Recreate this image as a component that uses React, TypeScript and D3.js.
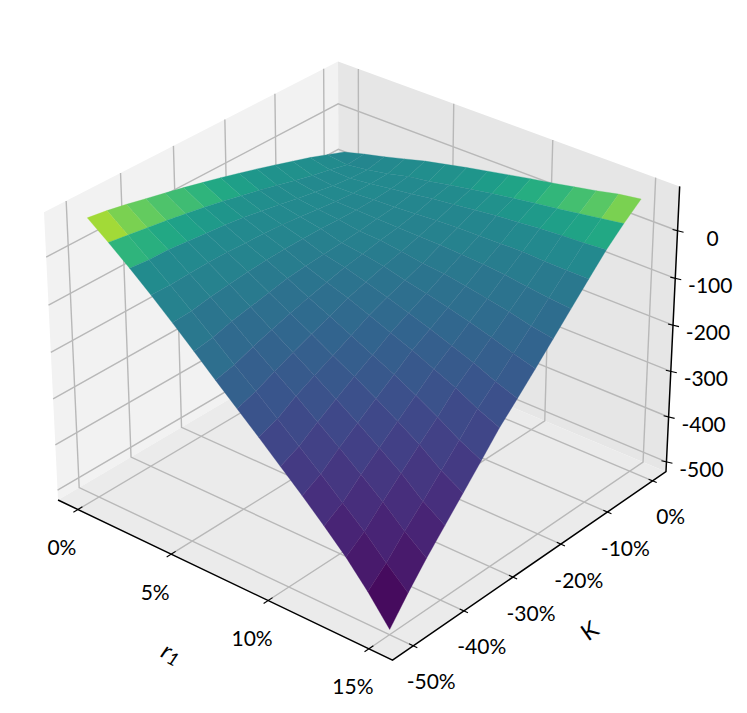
import React from "react";
import * as d3 from "d3";

const WIDTH = 747;
const HEIGHT = 713;

const r1Grid = [0, 1.0714, 2.1429, 3.2143, 4.2857, 5.3571, 6.4286, 7.5, 8.5714, 9.6429, 10.7143, 11.7857, 12.8571, 13.9286, 15];
const kGrid = [-50, -46.43, -42.86, -39.29, -35.71, -32.14, -28.57, -25, -21.43, -17.86, -14.29, -10.71, -7.14, -3.57, 0];

// surface height, one row per r1 value, one column per K value
const zRows = [
  [75, 69, 61, 52, 43, 34, 24, 14, 3, -8, -20, -32, -44, -58, -72],
  [42, 36, 30, 24, 17, 10, 2, -7, -16, -26, -36, -46, -54, -63, -60],
  [7, 3, 2, -2, -6, -10, -15, -22, -29, -37, -44, -51, -55, -57, -49],
  [-30, -31, -29, -28, -28, -30, -31, -34, -38, -43, -47, -50, -50, -49, -37],
  [-69, -67, -60, -55, -51, -48, -46, -46, -46, -47, -48, -47, -44, -38, -25],
  [-109, -103, -92, -84, -76, -68, -64, -61, -58, -54, -49, -45, -38, -31, -15],
  [-150, -141, -126, -113, -101, -90, -80, -70, -64, -56, -50, -42, -31, -22, -5],
  [-190, -177, -159, -142, -126, -111, -95, -83, -72, -62, -51, -39, -26, -14, 4],
  [-230, -215, -191, -171, -152, -133, -113, -97, -83, -69, -52, -37, -20, -6, 13],
  [-271, -253, -226, -201, -177, -155, -131, -112, -93, -73, -54, -36, -15, 1, 22],
  [-312, -291, -260, -232, -204, -177, -149, -127, -104, -81, -57, -35, -11, 8, 30],
  [-355, -331, -296, -264, -232, -201, -169, -143, -116, -89, -61, -34, -7, 14, 39],
  [-400, -371, -333, -297, -261, -227, -189, -160, -129, -98, -67, -36, -4, 21, 48],
  [-452, -417, -375, -336, -296, -256, -214, -180, -144, -109, -73, -37, -2, 28, 58],
  [-511, -459, -411, -367, -323, -279, -234, -196, -157, -117, -77, -37, 2, 35, 65],
];

// position on the viridis ramp for each face
const faceColors = [
  [0.86, 0.8, 0.76, 0.72, 0.69, 0.65, 0.6, 0.56, 0.53, 0.51, 0.5, 0.49, 0.48, 0.46],
  [0.65, 0.63, 0.6, 0.57, 0.54, 0.52, 0.5, 0.49, 0.48, 0.48, 0.47, 0.47, 0.47, 0.46],
  [0.48, 0.47, 0.47, 0.47, 0.47, 0.47, 0.47, 0.47, 0.47, 0.47, 0.47, 0.47, 0.47, 0.47],
  [0.44, 0.43, 0.44, 0.44, 0.45, 0.45, 0.455, 0.46, 0.46, 0.46, 0.46, 0.47, 0.47, 0.48],
  [0.4, 0.39, 0.4, 0.41, 0.41, 0.42, 0.42, 0.43, 0.44, 0.45, 0.455, 0.46, 0.47, 0.49],
  [0.36, 0.34, 0.35, 0.36, 0.37, 0.385, 0.4, 0.415, 0.43, 0.44, 0.45, 0.46, 0.47, 0.5],
  [0.305, 0.3, 0.315, 0.33, 0.345, 0.36, 0.38, 0.4, 0.415, 0.43, 0.445, 0.46, 0.48, 0.52],
  [0.255, 0.265, 0.28, 0.3, 0.32, 0.34, 0.36, 0.38, 0.4, 0.42, 0.44, 0.46, 0.49, 0.55],
  [0.21, 0.225, 0.25, 0.27, 0.295, 0.32, 0.34, 0.36, 0.385, 0.41, 0.44, 0.46, 0.5, 0.58],
  [0.17, 0.195, 0.215, 0.245, 0.27, 0.295, 0.32, 0.345, 0.37, 0.4, 0.43, 0.46, 0.52, 0.62],
  [0.135, 0.16, 0.19, 0.215, 0.245, 0.27, 0.3, 0.33, 0.36, 0.39, 0.42, 0.47, 0.54, 0.66],
  [0.1, 0.13, 0.16, 0.19, 0.215, 0.25, 0.28, 0.315, 0.35, 0.38, 0.415, 0.47, 0.56, 0.7],
  [0.07, 0.1, 0.13, 0.16, 0.195, 0.225, 0.265, 0.3, 0.335, 0.37, 0.41, 0.47, 0.58, 0.74],
  [0.03, 0.07, 0.1, 0.135, 0.17, 0.21, 0.245, 0.285, 0.32, 0.355, 0.4, 0.47, 0.6, 0.8],
];

const r1Ticks = [0, 5, 10, 15];
const kTicks = [0, -10, -20, -30, -40, -50];
const zTicks = [0, -100, -200, -300, -400, -500];

const xLim: [number, number] = [-1.09, 16.14];
const yLim: [number, number] = [-54, 3];
const zLim: [number, number] = [-522, 92];

// view of the axes box
const elev = (30 * Math.PI) / 180;
const azim = (-50 * Math.PI) / 180;
const dist = 10;
const halfXY = 0.595;
const halfZ = 0.446;
const pxScale = 3707;
const centerX = 363.9;
const centerY = 345.7;

const xBox = d3.scaleLinear().domain(xLim).range([-halfXY, halfXY]);
const yBox = d3.scaleLinear().domain(yLim).range([-halfXY, halfXY]);
const zBox = d3.scaleLinear().domain(zLim).range([-halfZ, halfZ]);

const uAxis = [-Math.sin(azim), Math.cos(azim), 0];
const wAxis = [Math.cos(elev) * Math.cos(azim), Math.cos(elev) * Math.sin(azim), Math.sin(elev)];
const vAxis = [Math.sin(elev) * -Math.cos(azim), Math.sin(elev) * -Math.sin(azim), Math.cos(elev)];

const dot = (a: number[], b: number[]) => a[0] * b[0] + a[1] * b[1] + a[2] * b[2];

// data coordinates to screen, returns [px, py, depth]
function project(x: number, y: number, z: number) {
  const p = [xBox(x), yBox(y), zBox(z)];
  const depth = dist - dot(p, wAxis);
  return [
    centerX + (pxScale * dot(p, uAxis)) / depth,
    centerY - (pxScale * dot(p, vAxis)) / depth,
    depth,
  ];
}

const line3d = d3
  .line<number[]>()
  .x((d) => d[0])
  .y((d) => d[1]);

const path3d = (pts: number[][], close = false) =>
  line3d(pts.map((d) => project(d[0], d[1], d[2]))) + (close ? "Z" : "");

const colorScale = d3.scaleSequential(d3.interpolateViridis).domain([0, 1]);

const [x0, x1] = xLim;
const [y0, y1] = yLim;
const [z0, z1] = zLim;

const panes = [
  { fill: "#f2f2f2", pts: [[x0, y0, z0], [x0, y1, z0], [x0, y1, z1], [x0, y0, z1]] },
  { fill: "#e6e6e6", pts: [[x0, y1, z0], [x1, y1, z0], [x1, y1, z1], [x0, y1, z1]] },
  { fill: "#ebebeb", pts: [[x0, y0, z0], [x1, y0, z0], [x1, y1, z0], [x0, y1, z0]] },
];

const gridLines = [
  ...r1Ticks.map((t) => [[t, y0, z0], [t, y1, z0], [t, y1, z1]]),
  ...kTicks.map((t) => [[x1, t, z0], [x0, t, z0], [x0, t, z1]]),
  ...zTicks.map((t) => [[x0, y0, t], [x0, y1, t], [x1, y1, t]]),
];

const faces = faceColors
  .flatMap((row, i) =>
    row.map((t, j) => {
      const corners = [
        [r1Grid[i], kGrid[j], zRows[i][j]],
        [r1Grid[i + 1], kGrid[j], zRows[i + 1][j]],
        [r1Grid[i + 1], kGrid[j + 1], zRows[i + 1][j + 1]],
        [r1Grid[i], kGrid[j + 1], zRows[i][j + 1]],
      ];
      const depth = d3.mean(corners, (c) => project(c[0], c[1], c[2])[2]) as number;
      return { corners, depth, fill: colorScale(t) };
    }),
  )
  .sort((a, b) => d3.descending(a.depth, b.depth));

const tickFont = { fontFamily: "Lato, sans-serif", fontSize: 21, fill: "#000" };

export default function App() {
  return (
    <svg width={WIDTH} height={HEIGHT} style={{ position: "absolute", left: 0, top: 0, background: "#fff" }}>
      {panes.map((p, i) => (
        <path key={i} d={path3d(p.pts, true)} fill={p.fill} />
      ))}
      {gridLines.map((g, i) => (
        <path key={i} d={path3d(g)} fill="none" stroke="#b8b8b8" strokeWidth={1.4} />
      ))}

      {/* axis lines */}
      <path d={path3d([[x0, y0, z0], [x1, y0, z0], [x1, y1, z0], [x1, y1, z1]])} fill="none" stroke="#000" strokeWidth={1.5} />

      {faces.map((f, i) => (
        <path key={i} d={path3d(f.corners, true)} fill={f.fill} stroke={f.fill} strokeWidth={0.3} />
      ))}

      {r1Ticks.map((t) => {
        const [px, py] = project(t, y0, z0);
        return (
          <g key={t}>
            <path d={path3d([[t, y0 - 0.85, z0], [t, y0 + 0.85, z0]])} stroke="#000" strokeWidth={1.1} />
            <text x={px - 16} y={py + 37} textAnchor="middle" dominantBaseline="central" style={tickFont}>
              {t}%
            </text>
          </g>
        );
      })}
      {kTicks.map((t) => {
        const [px, py] = project(x1, t, z0);
        return (
          <g key={t}>
            <path d={path3d([[x1 - 0.2, t, z0], [x1 + 0.2, t, z0]])} stroke="#000" strokeWidth={1.1} />
            <text x={px + 18} y={py + 35} textAnchor="middle" dominantBaseline="central" style={tickFont}>
              {t}%
            </text>
          </g>
        );
      })}
      {zTicks.map((t) => {
        const [px, py] = project(x1, y1, t);
        return (
          <g key={t}>
            <path d={`M${px - 5},${py - 1.2}L${px + 6},${py + 1.4}`} stroke="#000" strokeWidth={1.1} />
            <text x={px + 35} y={py + 6.5} textAnchor="middle" dominantBaseline="central" style={tickFont}>
              {t}
            </text>
          </g>
        );
      })}

      <text
        transform="translate(172,652) rotate(27)"
        textAnchor="middle"
        dominantBaseline="central"
        style={{ ...tickFont, fontStyle: "italic", fontSize: 24 }}
      >
        r<tspan dy={5} fontSize={18} fontStyle="italic">1</tspan>
      </text>
      <text
        transform="translate(589,630) rotate(-35)"
        textAnchor="middle"
        dominantBaseline="central"
        style={{ ...tickFont, fontSize: 23 }}
      >
        K
      </text>
    </svg>
  );
}
